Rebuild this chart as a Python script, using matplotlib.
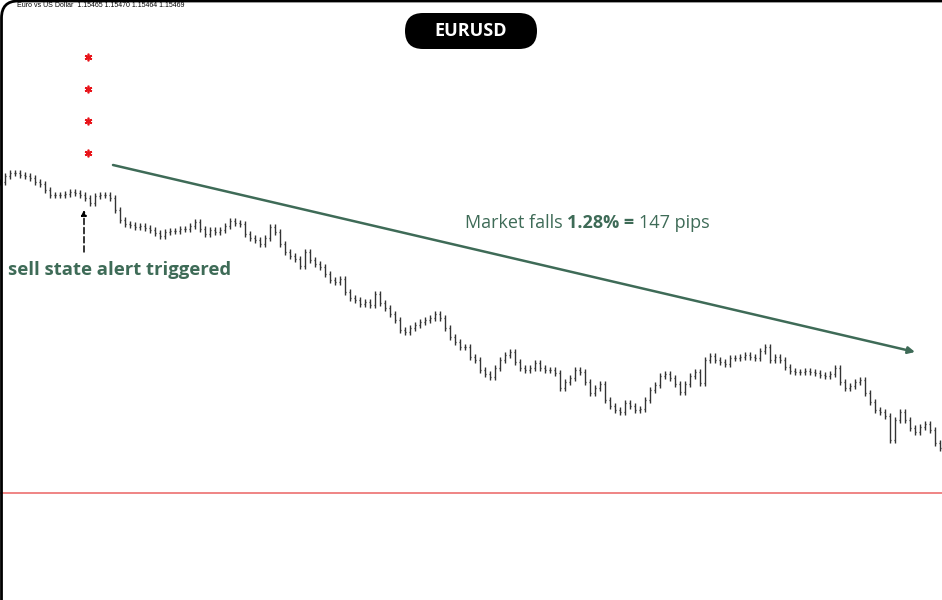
import matplotlib
matplotlib.use('Agg')
from matplotlib import pyplot as plt
from matplotlib.patches import FancyBboxPatch, PathPatch
from matplotlib.path import Path
from matplotlib.transforms import IdentityTransform
import numpy as np

# EURUSD closes, one bar every 5 px of the screenshot
closes = [
    1.14908, 1.14944, 1.14962, 1.14962, 1.14950, 1.14944, 1.14932, 1.14908, 1.14896, 1.14860,
    1.14830, 1.14830, 1.14830, 1.14836, 1.14848, 1.14842, 1.14830, 1.14812, 1.14782, 1.14824,
    1.14830, 1.14830, 1.14812, 1.14740, 1.14680, 1.14656, 1.14650, 1.14638, 1.14644, 1.14632,
    1.14620, 1.14602, 1.14584, 1.14608, 1.14614, 1.14614, 1.14626, 1.14626, 1.14644, 1.14668,
    1.14626, 1.14596, 1.14620, 1.14608, 1.14620, 1.14644, 1.14674, 1.14662, 1.14656, 1.14596,
    1.14572, 1.14560, 1.14536, 1.14572, 1.14638, 1.14608, 1.14536, 1.14488, 1.14464, 1.14446,
    1.14404, 1.14488, 1.14440, 1.14416, 1.14398, 1.14356, 1.14320, 1.14308, 1.14326, 1.14248,
    1.14212, 1.14200, 1.14176, 1.14188, 1.14170, 1.14236, 1.14182, 1.14152, 1.14116, 1.14080,
    1.14020, 1.14008, 1.14032, 1.14050, 1.14068, 1.14080, 1.14092, 1.14116, 1.14092, 1.14032,
    1.13978, 1.13948, 1.13918, 1.13918, 1.13858, 1.13840, 1.13780, 1.13756, 1.13738, 1.13792,
    1.13840, 1.13870, 1.13888, 1.13828, 1.13792, 1.13780, 1.13792, 1.13822, 1.13792, 1.13780,
    1.13780, 1.13762, 1.13672, 1.13708, 1.13732, 1.13780, 1.13768, 1.13708, 1.13642, 1.13672,
    1.13696, 1.13600, 1.13564, 1.13540, 1.13528, 1.13582, 1.13564, 1.13540, 1.13546, 1.13600,
    1.13660, 1.13690, 1.13744, 1.13756, 1.13732, 1.13696, 1.13648, 1.13696, 1.13744, 1.13768,
    1.13702, 1.13840, 1.13864, 1.13840, 1.13828, 1.13816, 1.13852, 1.13852, 1.13858, 1.13870,
    1.13858, 1.13852, 1.13894, 1.13918, 1.13840, 1.13858, 1.13840, 1.13798, 1.13774, 1.13768,
    1.13768, 1.13774, 1.13768, 1.13762, 1.13750, 1.13744, 1.13756, 1.13792, 1.13708, 1.13672,
    1.13684, 1.13708, 1.13720, 1.13642, 1.13588, 1.13540, 1.13528, 1.13504, 1.13360, 1.13480,
    1.13528, 1.13480, 1.13432, 1.13408, 1.13438, 1.13456, 1.13420, 1.13342, 1.13312,
]
wick = 0.0002

alert_bar = 16.8
signal_bar = 17.6
signal_prices = [1.15658, 1.15466, 1.15274, 1.15082]
alert_arrow = (1.14488, 1.14740)

trend_start = (22.6, 1.15010)
trend_end = (183.0, 1.13888)
bid_line = 1.13042

green = '#3e6b57'

fig = plt.figure(figsize=(9.42, 6), dpi=100)
ax = fig.add_axes([0, 0, 1, 1])
ax.axis('off')
ax.set_xlim(0, 188.4)
ax.set_ylim(1.124, 1.160)

# OHLC bars (open = previous close)
c = np.array(closes)
o = np.r_[c[0], c[:-1]]
x = np.arange(len(c))
hi = np.maximum(o, c) + wick
lo = np.minimum(o, c) - wick
ax.vlines(x, lo, hi, color='#333333', lw=1.0)
ax.hlines(o, x - 0.25, x, color='#333333', lw=0.9)
ax.hlines(c, x, x + 0.25, color='#333333', lw=0.9)

ax.axhline(bid_line, color='#ec6f6f', lw=1.2)

# signal stars
ax.plot([signal_bar] * len(signal_prices), signal_prices, ls='none',
        marker=(6, 2, 0), ms=5.5, mew=1.2, color='#e8141a')

# alert arrow
ax.annotate('', xy=(alert_bar, alert_arrow[1]), xytext=(alert_bar, alert_arrow[0]),
            arrowprops=dict(arrowstyle='-|>', color='black', lw=1.1, ls=(0, (4, 2)),
                            mutation_scale=8, shrinkA=0, shrinkB=0))
ax.text(1.6, 1.14380, 'sell state alert triggered', color=green, fontsize=13.3,
        fontweight='bold', family='Open Sans', ha='left', va='center')

# trend arrow
ax.annotate('', xy=trend_end, xytext=trend_start,
            arrowprops=dict(arrowstyle='-|>', color=green, lw=1.8,
                            mutation_scale=10, shrinkA=0, shrinkB=0))

t1 = ax.text(93.0, 1.14662, 'Market falls', color=green, fontsize=13,
             family='Open Sans', ha='left', va='center')
t2 = ax.annotate('1.28% =', xy=(1, 0.5), xycoords=t1, xytext=(3.5, 0),
                 textcoords='offset points', color=green, fontsize=13,
                 family='Open Sans', fontweight='bold', ha='left', va='center')
ax.annotate('147 pips', xy=(1, 0.5), xycoords=t2, xytext=(3.5, 0),
            textcoords='offset points', color=green, fontsize=13,
            family='Open Sans', ha='left', va='center')

# EURUSD badge (pixel coords)
badge = FancyBboxPatch((405, 600 - 49), 132, 36,
                       boxstyle='round,pad=0,rounding_size=18',
                       transform=IdentityTransform(), facecolor='black',
                       edgecolor='none')
fig.add_artist(badge)
fig.text(471 / 942, 1 - 31 / 600, 'EURUSD', color='white', fontsize=13,
         fontweight='bold', family='Open Sans', ha='center', va='center')

fig.text(17 / 942, 1 - 5.5 / 600, 'Euro vs US Dollar  1.15465 1.15470 1.15464 1.15469',
         fontsize=5, family='Liberation Sans', ha='left', va='center')

# window frame with rounded top-left corner
frame = Path([(1.5, 0), (1.5, 600 - 18), (1.5, 599), (18, 599), (942, 599)],
             [Path.MOVETO, Path.LINETO, Path.CURVE3, Path.CURVE3, Path.LINETO])
fig.add_artist(PathPatch(frame, transform=IdentityTransform(), facecolor='none',
                         edgecolor='black', lw=2.0))

plt.savefig('out.png', dpi=100)
